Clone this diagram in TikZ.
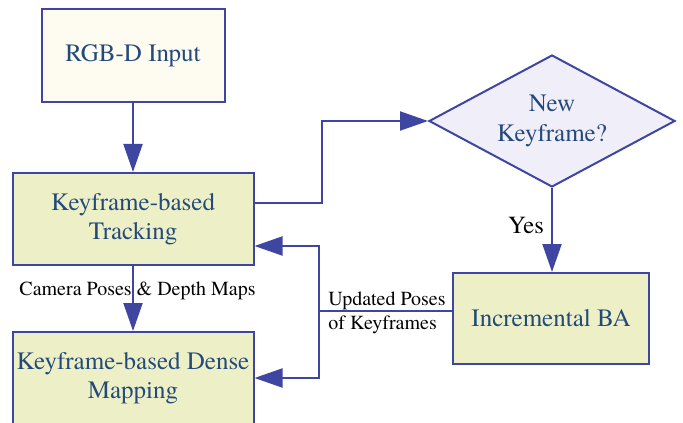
\documentclass[tikz,border=0pt]{standalone}
\usepackage{fontspec}
\setmainfont{texgyretermes}[Extension=.otf, UprightFont=*-regular, BoldFont=*-bold, ItalicFont=*-italic, BoldItalicFont=*-bolditalic]
\usetikzlibrary{arrows.meta,shapes.geometric}
\definecolor{edgeblue}{RGB}{62,70,162}
\definecolor{textblue}{RGB}{36,74,122}
\definecolor{boxgreen}{RGB}{237,240,199}
\definecolor{boxcream}{RGB}{254,251,241}
\definecolor{boxlilac}{RGB}{240,238,248}
\tikzset{
  block/.style={draw=edgeblue, line width=1pt, fill=boxgreen, text=textblue, align=center, inner sep=0pt, font=\fontsize{12.5}{14.7}\selectfont},
  decision/.style={block, diamond, fill=boxlilac, shape aspect=1.87, minimum width=123pt, minimum height=66pt},
  link/.style={draw=edgeblue, line width=1pt, -{Triangle[length=14pt,width=9.5pt]}},
  plain/.style={draw=edgeblue, line width=1pt},
  lbl/.style={font=\fontsize{10}{12.3}\selectfont, inner sep=0pt, align=left},
}

\begin{document}
\begin{tikzpicture}[x=0.5pt, y=-0.5pt]
	%%%%% START %%%%%
	\useasboundingbox (0,0) rectangle (683,422);
	\clip (0,0) rectangle (683,422);
	
	\node[block, fill=boxcream, minimum width=91.5pt, minimum height=46.5pt] (input) at (133,55.5) {RGB-D Input};
	\node[block, minimum width=120.5pt, minimum height=46pt] (track) at (133,219) {Keyframe-based\\Tracking};
	\node[block, minimum width=120.5pt, minimum height=46pt] (map) at (133,378) {Keyframe-based Dense\\Mapping};
	\node[decision] (newkf) at (552,121) {New\\Keyframe?};
	\node[block, minimum width=98pt, minimum height=45.5pt] (ba) at (551,318.5) {Incremental BA};
	
	\coordinate (bus) at (319,311);
	\coordinate (bustop) at (319,246);
	\coordinate (busbot) at (319,378);
	
	\draw[link] (input) -- (track);
	\draw[link] (track) -- (map);
	\node[lbl] (camlbl) at (137.5,291) {Camera Poses \& Depth Maps};
	
	\draw[link] ([yshift=8pt]track.east) -- ++(67,0) |- (newkf.west);
	\draw[link] (newkf.south) -- (newkf.south |- ba.north);
	\node[lbl, font=\fontsize{12.3}{14}\selectfont] (yes) at (526,225) {Yes};
	
	\draw[plain] (ba.west |- bus) -- (bus);
	\draw[link] (bus) -- (bustop) -- (bustop -| track.east);
	\draw[link] (bus) -- (busbot) -- (busbot -| map.east);
	\node[lbl, anchor=west] (updlbl) at (328,313) {Updated Poses\\of Keyframes};
	
	%%%%% END %%%%%
\end{tikzpicture}
\end{document}
